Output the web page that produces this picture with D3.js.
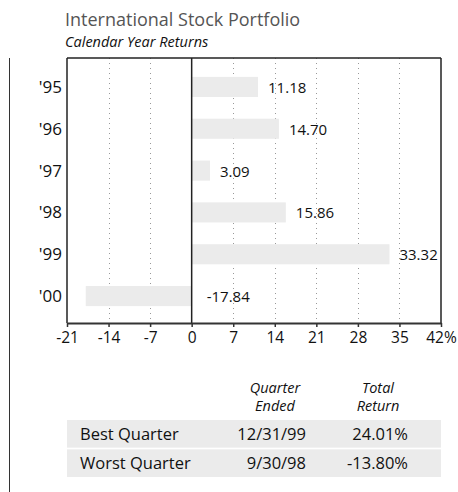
<!DOCTYPE html>
<html lang="en">
<head>
<meta charset="utf-8">
<title>International Stock Portfolio</title>
<style>
  body { margin: 0; background: #fff; }
  svg { display: block; font-family: "Open Sans", "DejaVu Sans", sans-serif; }
</style>
</head>
<body>
<svg width="458" height="492"></svg>
<script src="https://d3js.org/d3.v7.min.js"></script>
<script>

var years = ["'95", "'96", "'97", "'98", "'99", "'00"];
var returns = [11.18, 14.70, 3.09, 15.86, 33.32, -17.84];
var tickValues = [-21, -14, -7, 0, 7, 14, 21, 28, 35, 42];

var quarterLabels = ["Best Quarter", "Worst Quarter"];
var quarterEnded = ["12/31/99", "9/30/98"];
var quarterReturns = ["24.01%", "-13.80%"];

var svg = d3.select("svg");

var plotLeft = 67, plotRight = 441, plotTop = 58, plotBottom = 323;

var x = d3.scaleLinear().domain([-21, 42]).range([plotLeft, plotRight]);
var y = d3.scaleBand().domain(years).range([66, 317])
    .paddingInner(0.52).paddingOuter(0.26);

// title
svg.append("text")
    .attr("x", 65).attr("y", 26)
    .attr("font-size", 18).attr("fill", "#555")
    .text("International Stock Portfolio");
svg.append("text")
    .attr("x", 65).attr("y", 47)
    .attr("font-size", 14.5).attr("font-style", "italic").attr("fill", "#111")
    .text("Calendar Year Returns");

// left margin rule
svg.append("line")
    .attr("x1", 9.5).attr("x2", 9.5).attr("y1", plotTop).attr("y2", 492)
    .attr("stroke", "#333").attr("stroke-width", 1);

// dotted gridlines
svg.append("g").selectAll("line")
    .data(tickValues.filter(function(d) { return d != 0 && d != -21 && d != 42; }))
    .enter().append("line")
      .attr("x1", function(d) { return Math.round(x(d)) + 0.5; })
      .attr("x2", function(d) { return Math.round(x(d)) + 0.5; })
      .attr("y1", plotTop).attr("y2", plotBottom)
      .attr("stroke", "#999").attr("stroke-width", 1)
      .attr("stroke-dasharray", "1,4");

// bars
svg.append("g").selectAll("rect")
    .data(returns)
    .enter().append("rect")
      .attr("x", function(d) { return x(Math.min(0, d)); })
      .attr("y", function(d, i) { return y(years[i]); })
      .attr("width", function(d) { return Math.abs(x(d) - x(0)); })
      .attr("height", y.bandwidth())
      .attr("fill", "#ebebeb");

// value labels
svg.append("g").selectAll("text")
    .data(returns)
    .enter().append("text")
      .attr("x", function(d) { return d < 0 ? x(0) + 15 : x(d) + 10; })
      .attr("y", function(d, i) { return y(years[i]) + y.bandwidth() / 2 + 6; })
      .attr("font-size", 15).attr("fill", "#111")
      .text(function(d) { return d.toFixed(2); });

// year labels
svg.append("g").selectAll("text")
    .data(years)
    .enter().append("text")
      .attr("x", 62)
      .attr("y", function(d) { return y(d) + y.bandwidth() / 2 + 6; })
      .attr("text-anchor", "end")
      .attr("font-size", 17).attr("fill", "#111")
      .text(function(d) { return d; });

// frame
var frame = svg.append("g").attr("stroke", "#222").attr("fill", "none").attr("stroke-width", 1.5);
frame.append("line").attr("x1", plotLeft).attr("x2", plotRight).attr("y1", plotTop).attr("y2", plotTop);
frame.append("line").attr("x1", plotLeft).attr("x2", plotLeft).attr("y1", plotTop).attr("y2", plotBottom);
frame.append("line").attr("x1", plotRight).attr("x2", plotRight).attr("y1", plotTop).attr("y2", plotBottom);
frame.append("line").attr("x1", x(0)).attr("x2", x(0)).attr("y1", plotTop).attr("y2", plotBottom);

// x axis
var axis = svg.append("g")
    .attr("transform", "translate(0," + plotBottom + ")")
    .call(d3.axisBottom(x).tickValues(tickValues).tickSize(4).tickSizeOuter(0)
        .tickFormat(function(d) { return d == 42 ? d + "%" : d; }));
axis.select(".domain").attr("stroke", "#333").attr("stroke-width", 2);
axis.selectAll(".tick line").attr("stroke", "#333").attr("stroke-width", 1.5);
axis.selectAll(".tick text")
    .attr("font-size", 15.5).attr("fill", "#111")
    .attr("font-family", "\"Open Sans\", \"DejaVu Sans\", sans-serif")
    .attr("dy", "0.85em");

// best / worst quarter table
var colEnded = 306, colReturn = 408;
var hdr = svg.append("g").attr("font-size", 14.5).attr("font-style", "italic")
    .attr("fill", "#111").attr("text-anchor", "middle");
hdr.append("text").attr("x", 275).attr("y", 393).text("Quarter");
hdr.append("text").attr("x", 275).attr("y", 411).text("Ended");
hdr.append("text").attr("x", 378).attr("y", 393).text("Total");
hdr.append("text").attr("x", 378).attr("y", 411).text("Return");

var rowY = d3.scaleBand().domain(quarterLabels).range([420, 477]).paddingInner(0.06);

var rows = svg.append("g").selectAll("g")
    .data(quarterLabels)
    .enter().append("g")
      .attr("transform", function(d) { return "translate(0," + rowY(d) + ")"; });

rows.append("rect")
    .attr("x", plotLeft).attr("width", plotRight - plotLeft)
    .attr("height", rowY.bandwidth())
    .attr("fill", "#ebebeb");

var cells = [
  { x: 80, anchor: "start", get: function(d, i) { return d; } },
  { x: colEnded, anchor: "end", get: function(d, i) { return quarterEnded[i]; } },
  { x: colReturn, anchor: "end", get: function(d, i) { return quarterReturns[i]; } }
];
cells.forEach(function(c) {
  rows.append("text")
      .attr("x", c.x).attr("y", rowY.bandwidth() / 2 + 6)
      .attr("text-anchor", c.anchor)
      .attr("font-size", 16.5).attr("fill", "#111")
      .text(c.get);
});

</script>
</body>
</html>
